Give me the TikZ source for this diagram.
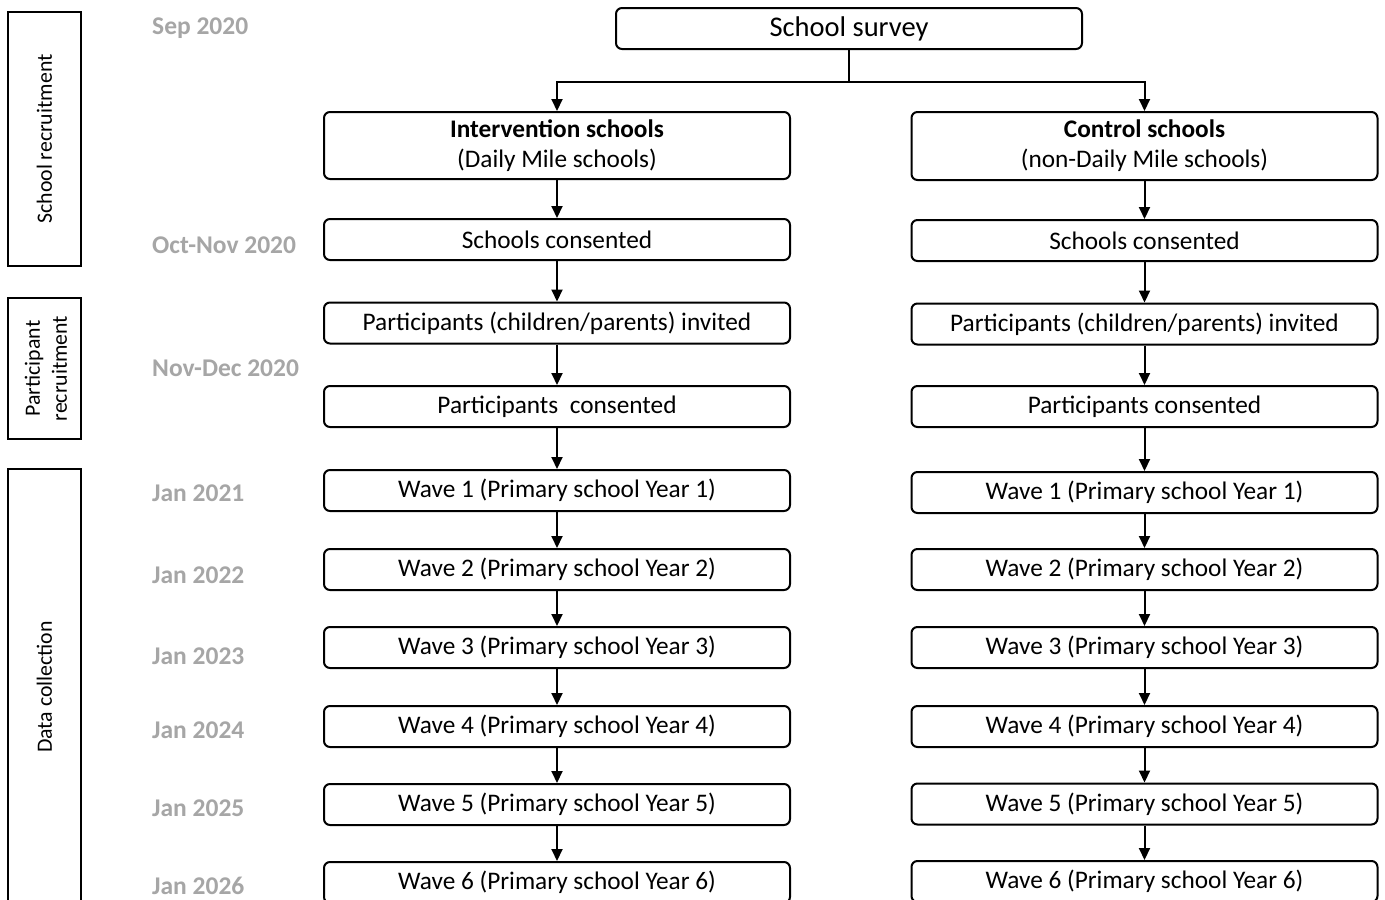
\documentclass[tikz,border=0pt]{standalone}
\usepackage{fontspec}
\setmainfont{Carlito}
\usetikzlibrary{arrows.meta}
\definecolor{dategray}{RGB}{166,166,166}
\tikzset{
  stagebox/.style={draw, line width=2pt, rounded corners=6pt, minimum width=466pt, minimum height=41pt, inner sep=0pt, align=center, font=\fontsize{25.3}{30}\selectfont},
  phasebox/.style={draw, line width=2pt, minimum width=73pt, inner sep=0pt},
  phaselabel/.style={rotate=90, align=center, font=\fontsize{21.8}{27}\selectfont},
  datelabel/.style={anchor=west, text=dategray, inner sep=0pt, font=\fontsize{25.5}{28}\bfseries\selectfont},
  arr/.style={line width=2pt, -{Triangle[length=12pt,width=11pt]}},
  conn/.style={line width=2pt}
}
\begin{document}
\begin{tikzpicture}[x=1pt,y=-1pt]
\useasboundingbox (0,0) rectangle (1385,900);
\clip (0,0) rectangle (1385,900);
\fill[white] (0,0) rectangle (1385,900);

% phase boxes
\node[phasebox, minimum height=254pt] (ph1) at (44.5,139) {};
\node[phaselabel] (ph1t) at (44.5,139) {School recruitment};
\node[phasebox, minimum height=141pt] (ph2) at (44.5,368.5) {};
\node[phaselabel] (ph2t) at (46,368.5) {Participant\\recruitment};
\node[phasebox, minimum height=436pt] (ph3) at (44.5,687) {};
\node[phaselabel] (ph3t) at (44.5,687) {Data collection};

% dates
\node[datelabel] (d1) at (152,28.5) {Sep 2020};
\node[datelabel] (d2) at (152,245.5) {Oct-Nov 2020};
\node[datelabel] (d3) at (152,368.5) {Nov-Dec 2020};
\node[datelabel] (d4) at (152,493.5) {Jan 2021};
\node[datelabel] (d5) at (152,575.5) {Jan 2022};
\node[datelabel] (d6) at (152,656.5) {Jan 2023};
\node[datelabel] (d7) at (152,730.5) {Jan 2024};
\node[datelabel] (d8) at (152,808.5) {Jan 2025};
\node[datelabel] (d9) at (152,885.5) {Jan 2026};

% top
\node[stagebox, font=\fontsize{28.5}{30}\selectfont] (survey) at (849,28.5) {School survey};
\coordinate (br) at (849,82);

% left column
\node[stagebox, minimum height=67pt] (L0) at (557,145.5) {\textbf{Intervention schools}\\(Daily Mile schools)};
\node[stagebox] (L1) at (557,239.5) {Schools consented};
\node[stagebox] (L2) at (557,323) {Participants (children/parents) invited};
\node[stagebox] (L3) at (557,406.5) {Participants\ \ consented};
\node[stagebox] (L4) at (557,490.5) {Wave 1 (Primary school Year 1)};
\node[stagebox] (L5) at (557,569.5) {Wave 2 (Primary school Year 2)};
\node[stagebox] (L6) at (557,647.5) {Wave 3 (Primary school Year 3)};
\node[stagebox] (L7) at (557,726.5) {Wave 4 (Primary school Year 4)};
\node[stagebox] (L8) at (557,804.5) {Wave 5 (Primary school Year 5)};
\node[stagebox] (L9) at (557,882.5) {Wave 6 (Primary school Year 6)};

% right column
\node[stagebox, minimum height=68pt] (R0) at (1144.5,146) {\textbf{Control schools}\\(non-Daily Mile schools)};
\node[stagebox] (R1) at (1144.5,240.5) {Schools consented};
\node[stagebox] (R2) at (1144.5,324) {Participants (children/parents) invited};
\node[stagebox] (R3) at (1144.5,406.5) {Participants consented};
\node[stagebox] (R4) at (1144.5,492.5) {Wave 1 (Primary school Year 1)};
\node[stagebox] (R5) at (1144.5,569.5) {Wave 2 (Primary school Year 2)};
\node[stagebox] (R6) at (1144.5,647.5) {Wave 3 (Primary school Year 3)};
\node[stagebox] (R7) at (1144.5,726.5) {Wave 4 (Primary school Year 4)};
\node[stagebox] (R8) at (1144.5,804) {Wave 5 (Primary school Year 5)};
\node[stagebox] (R9) at (1144.5,881.5) {Wave 6 (Primary school Year 6)};

% connectors
\draw[conn] (survey.south) -- (br);
\draw[arr] (br) -| (L0.north);
\draw[arr] (br) -| (R0.north);
\foreach \a/\b in {0/1,1/2,2/3,3/4,4/5,5/6,6/7,7/8,8/9}{
  \draw[arr] (L\a.south) -- (L\b.north);
  \draw[arr] (R\a.south) -- (R\b.north);
}
\end{tikzpicture}
\end{document}
